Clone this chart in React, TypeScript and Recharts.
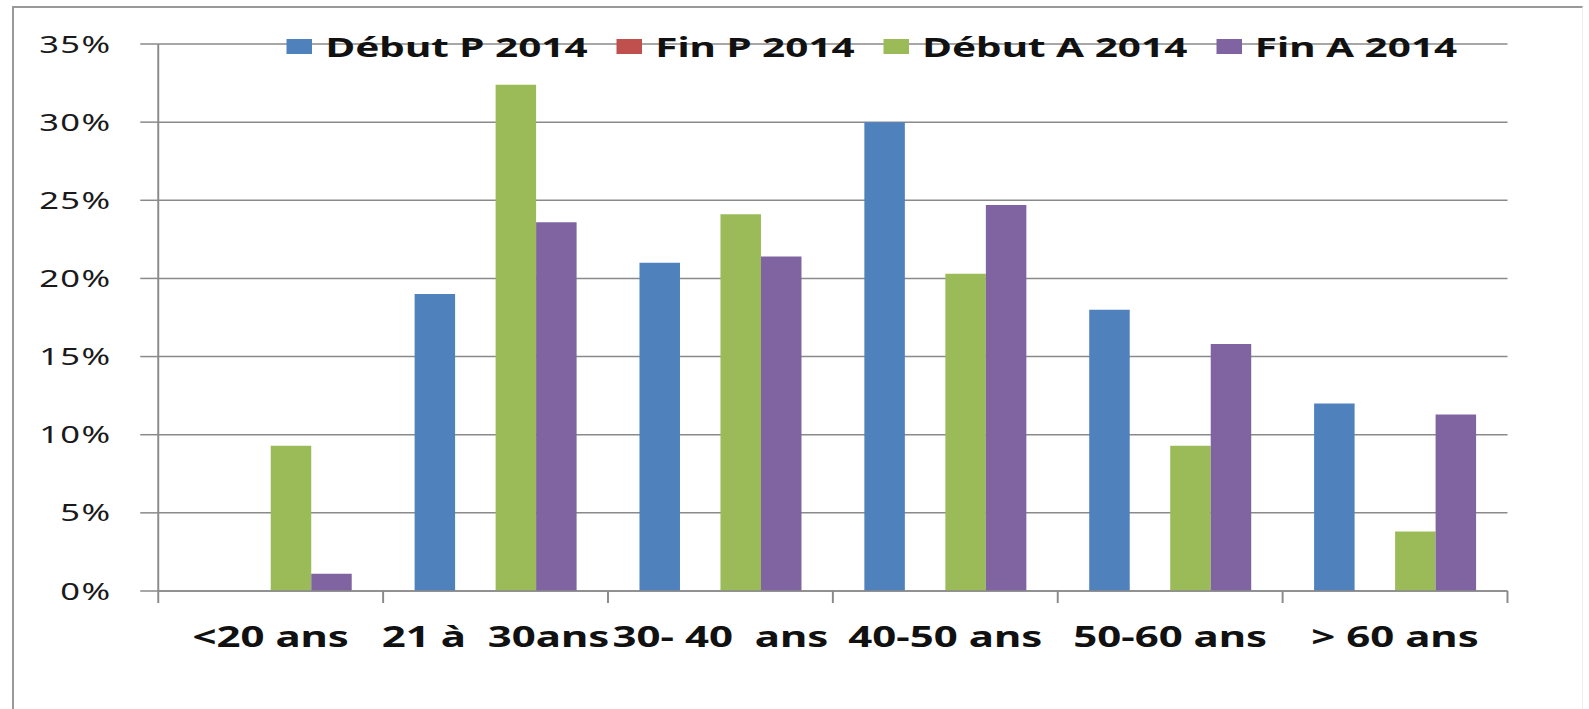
import { BarChart, Bar, XAxis, YAxis, CartesianGrid, Legend } from 'recharts'

const categories = ['<20 ans', '21 à  30ans', '30- 40  ans', '40-50 ans', '50-60 ans', '> 60 ans']
const seriesNames = ['Début P 2014', 'Fin P 2014', 'Début A 2014', 'Fin A 2014']
const debutP = [0, 19, 21, 30, 18, 12]
const finP = [0, 0, 0, 0, 0, 0]
const debutA = [9.3, 32.4, 24.1, 20.3, 9.3, 3.8]
const finA = [1.1, 23.6, 21.4, 24.7, 15.8, 11.3]
const yTicks = [0, 5, 10, 15, 20, 25, 30, 35]

const data = categories.map((name, i) => ({
  name,
  debutP: debutP[i],
  finP: finP[i],
  debutA: debutA[i],
  finA: finA[i],
}))

// the original picture is stretched sideways, so the chart is drawn narrow and scaled
const STRETCH = 1.5
const CHART_W = 1589 / STRETCH
const CHART_H = 709
const PLOT_LEFT = 105.5
const PLOT_RIGHT = 1005
const HALF_BAND = (PLOT_RIGHT - PLOT_LEFT) / categories.length / 2
const FONT = '"Noto Sans", sans-serif'
const GRID = '#8a8a8a'

// eslint-disable-next-line @typescript-eslint/no-explicit-any
function YTick({ x, y, payload }: any) {
  return (
    <text x={x} y={y} textAnchor="end" dominantBaseline="central" fontSize={23} letterSpacing={1} fill="#1a1a1a" fontFamily={FONT}>
      {payload.value}%
    </text>
  )
}

// eslint-disable-next-line @typescript-eslint/no-explicit-any
function XTick({ x, y, payload, index }: any) {
  return (
    <g>
      <line x1={x - HALF_BAND} x2={x - HALF_BAND} y1={y} y2={y + 12} stroke={GRID} strokeWidth={1.3} />
      {index === categories.length - 1 && (
        <line x1={x + HALF_BAND} x2={x + HALF_BAND} y1={y} y2={y + 12} stroke={GRID} strokeWidth={1.3} />
      )}
      <text x={x} y={y + 56} textAnchor="middle" fontSize={28} fontWeight={700} fill="#111" fontFamily={FONT} style={{ whiteSpace: 'pre' }}>
        {payload.value}
      </text>
    </g>
  )
}

// eslint-disable-next-line @typescript-eslint/no-explicit-any
function LegendContent({ payload }: any) {
  // keep the series order, not the alphabetical one
  // eslint-disable-next-line @typescript-eslint/no-explicit-any
  const items = [...(payload || [])].sort((a: any, b: any) => seriesNames.indexOf(a.value) - seriesNames.indexOf(b.value))
  return (
    <div style={{ display: 'flex', alignItems: 'center', fontFamily: FONT }}>
      {/* eslint-disable-next-line @typescript-eslint/no-explicit-any */}
      {items.map((p: any) => (
        <div key={p.value} style={{ display: 'flex', alignItems: 'center', marginRight: 19 }}>
          <span style={{ width: 17, height: 15, background: p.color, marginRight: 9, display: 'inline-block' }} />
          <span style={{ fontSize: 27, fontWeight: 700, color: '#111', lineHeight: 1 }}>{p.value}</span>
        </div>
      ))}
    </div>
  )
}

export default function App() {
  return (
    <div style={{ position: 'fixed', left: 0, top: 0, width: 1589, height: 709, background: '#fff', overflow: 'hidden' }}>
      <div style={{ position: 'absolute', left: 12, top: 6, width: 1568, height: 720, borderLeft: '2px solid #999', borderTop: '2px solid #999', borderRight: '1px solid #eee' }} />
      <div style={{ position: 'absolute', left: 0, top: 0, width: CHART_W, height: CHART_H, transform: `scaleX(${STRETCH})`, transformOrigin: '0 0' }}>
        <BarChart
          width={CHART_W}
          height={CHART_H}
          data={data}
          margin={{ top: 44, right: CHART_W - PLOT_RIGHT, left: 0, bottom: 0 }}
          barCategoryGap="14%"
          barGap={0}
        >
          <CartesianGrid vertical={false} stroke={GRID} strokeWidth={1.5} />
          <XAxis
            dataKey="name"
            height={118}
            tickLine={false}
            tickSize={0}
            tickMargin={0}
            axisLine={{ stroke: GRID, strokeWidth: 1.5 }}
            tick={<XTick />}
            interval={0}
          />
          <YAxis
            width={PLOT_LEFT}
            domain={[0, 35]}
            ticks={yTicks}
            tickSize={12}
            tickMargin={19}
            tickLine={{ stroke: GRID, strokeWidth: 1.5 }}
            axisLine={{ stroke: GRID, strokeWidth: 1.3 }}
            tick={<YTick />}
          />
          <Legend
            layout="horizontal"
            verticalAlign="middle"
            align="center"
            content={<LegendContent />}
            wrapperStyle={{ top: 33, left: 191, width: 'auto' }}
          />
          <Bar dataKey="debutP" name={seriesNames[0]} fill="#4F81BD" isAnimationActive={false} />
          <Bar dataKey="finP" name={seriesNames[1]} fill="#C0504D" isAnimationActive={false} />
          <Bar dataKey="debutA" name={seriesNames[2]} fill="#9BBB59" isAnimationActive={false} />
          <Bar dataKey="finA" name={seriesNames[3]} fill="#8064A2" isAnimationActive={false} />
        </BarChart>
      </div>
    </div>
  )
}
